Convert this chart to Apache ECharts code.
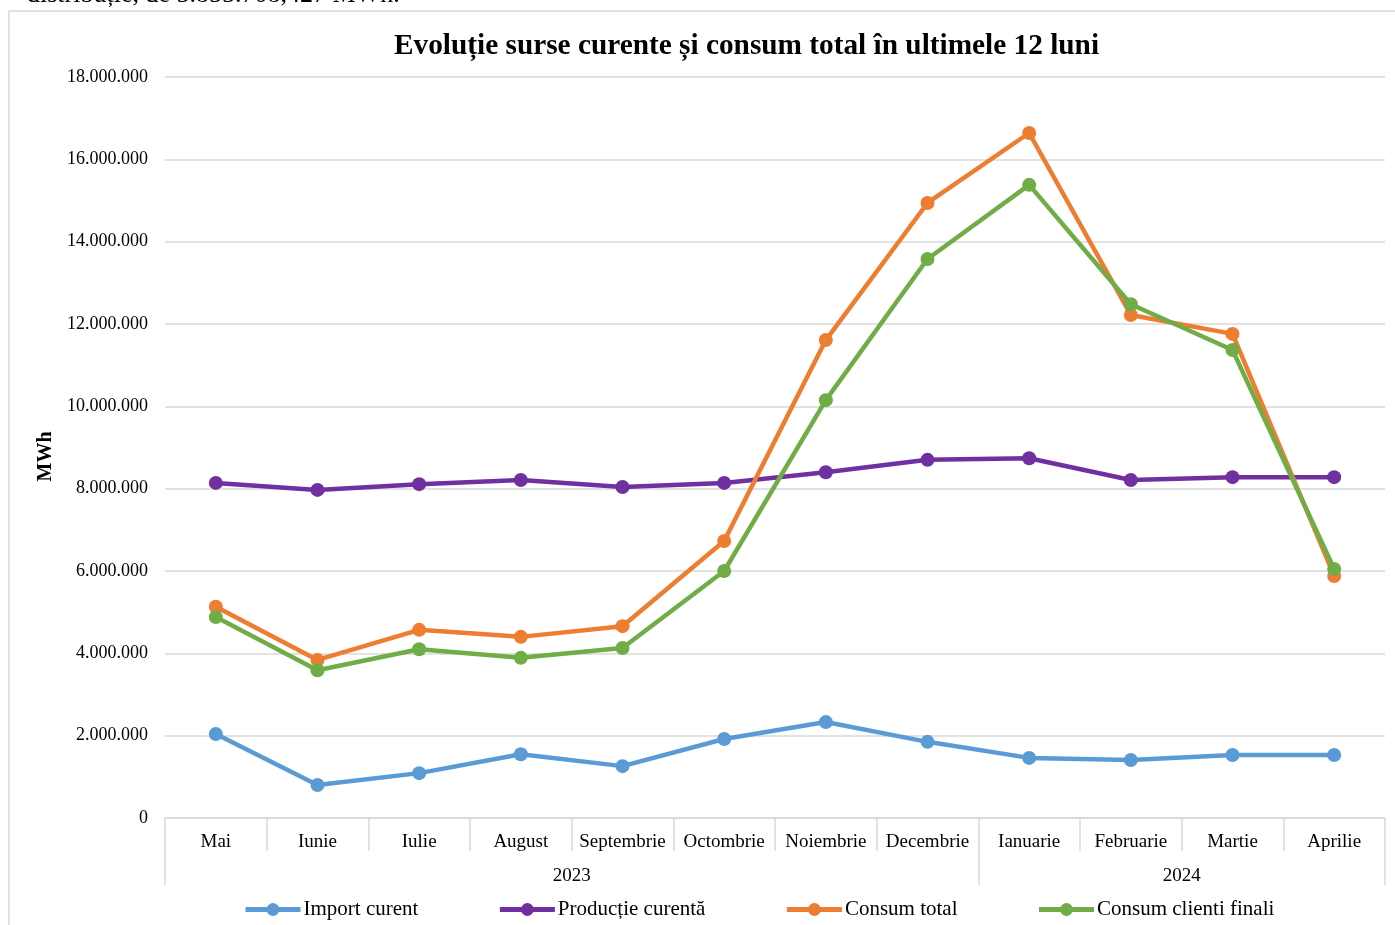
<!DOCTYPE html>
<html><head><meta charset="utf-8">
<script src="https://cdn.jsdelivr.net/npm/echarts@6/dist/echarts.min.js"></script>
<style>html,body{margin:0;padding:0;background:#fff}#c{width:1395px;height:925px}</style>
</head><body><div id="c"></div>
<script>
const months = ['Mai','Iunie','Iulie','August','Septembrie','Octombrie','Noiembrie','Decembrie','Ianuarie','Februarie','Martie','Aprilie'];
const years = ['2023','2024'];
const monthsPerYear = [8,4];
const importCurent = [2040000,800000,1090000,1550000,1260000,1920000,2330000,1850000,1460000,1410000,1530000,1530000];
const productieCurenta = [8140000,7970000,8110000,8210000,8040000,8140000,8400000,8700000,8740000,8210000,8280000,8280000];
const consumTotal = [5130000,3840000,4570000,4400000,4660000,6730000,11610000,14940000,16640000,12220000,11760000,5880000];
const consumClienti = [4880000,3590000,4100000,3890000,4130000,6000000,10150000,13580000,15380000,12480000,11370000,6050000];
const seriesNames = ['Import curent','Producție curentă','Consum total','Consum clienti finali'];
const colors = ['#5B9BD5','#7030A0','#ED7D31','#70AD47'];

const yearBounds=[0]; monthsPerYear.forEach(n=>yearBounds.push(yearBounds[yearBounds.length-1]+n));
const yearCenters = monthsPerYear.map((n,i)=>yearBounds[i]+n/2);

const font = '"Liberation Serif","Times New Roman",serif';
const fmt = v => String(Math.round(v)).replace(/\B(?=(\d{3})+(?!\d))/g,'.');
const chart = echarts.init(document.getElementById('c'));
const mk = (name,data,color)=>({name,type:'line',data,xAxisIndex:0,yAxisIndex:0,
  symbol:'circle',symbolSize:14,lineStyle:{width:4.5,color},itemStyle:{color},emphasis:{disabled:true},z:3});
chart.setOption({
  animation:false,
  textStyle:{fontFamily:font},
  graphic:[
    {type:'rect',shape:{x:9,y:11,width:1400,height:1000},style:{fill:'none',stroke:'#d9d9d9',lineWidth:1.5},z:-1},
    {type:'text',left:27,top:-18,style:{text:'distribuție, de 5.855.708,427 MWh.',font:'26px '+font,fill:'#000'}}
  ],
  title:{text:'Evoluție surse curente și consum total în ultimele 12 luni',left:389,top:27,
    textStyle:{fontFamily:font,fontSize:29.3,fontWeight:'bold',color:'#000'}},
  legend:{top:894,left:238,itemWidth:55,itemHeight:16,itemGap:79,
    lineStyle:{width:5},
    textStyle:{fontFamily:font,fontSize:21,color:'#000',padding:[0,0,0,-2]},
    data:seriesNames},
  grid:{left:165,right:10,top:77,bottom:107,containLabel:false},
  xAxis:[
    {type:'category',data:months,boundaryGap:true,
      axisLine:{lineStyle:{color:'#d9d9d9',width:1.5}},
      axisTick:{show:true,interval:0,length:33,lineStyle:{color:'#d9d9d9',width:1.5}},
      axisLabel:{interval:0,margin:15,fontSize:19,color:'#000',fontFamily:font}},
    {type:'value',min:0,max:yearBounds[yearBounds.length-1],position:'bottom',
      axisLine:{show:false},splitLine:{show:false},
      axisTick:{show:true,length:67,customValues:yearBounds,lineStyle:{color:'#d9d9d9',width:1.5}},
      axisLabel:{customValues:yearCenters,margin:49,fontSize:19,color:'#000',fontFamily:font,
        formatter:v=>years[yearCenters.indexOf(v)]}}
  ],
  yAxis:{type:'value',min:0,max:18000000,interval:2000000,
    name:'MWh',nameLocation:'middle',nameGap:109,nameRotate:90,
    nameTextStyle:{fontFamily:font,fontSize:20,fontWeight:'bold',color:'#000',padding:[0,18,0,0]},
    axisLine:{show:false},axisTick:{show:false},
    axisLabel:{formatter:fmt,fontSize:18,color:'#000',margin:17,fontFamily:font},
    splitLine:{lineStyle:{color:'#d9d9d9',width:1.5}}},
  series:[
    mk(seriesNames[0],importCurent,colors[0]),
    mk(seriesNames[1],productieCurenta,colors[1]),
    mk(seriesNames[2],consumTotal,colors[2]),
    mk(seriesNames[3],consumClienti,colors[3])
  ]
});
</script></body></html>
